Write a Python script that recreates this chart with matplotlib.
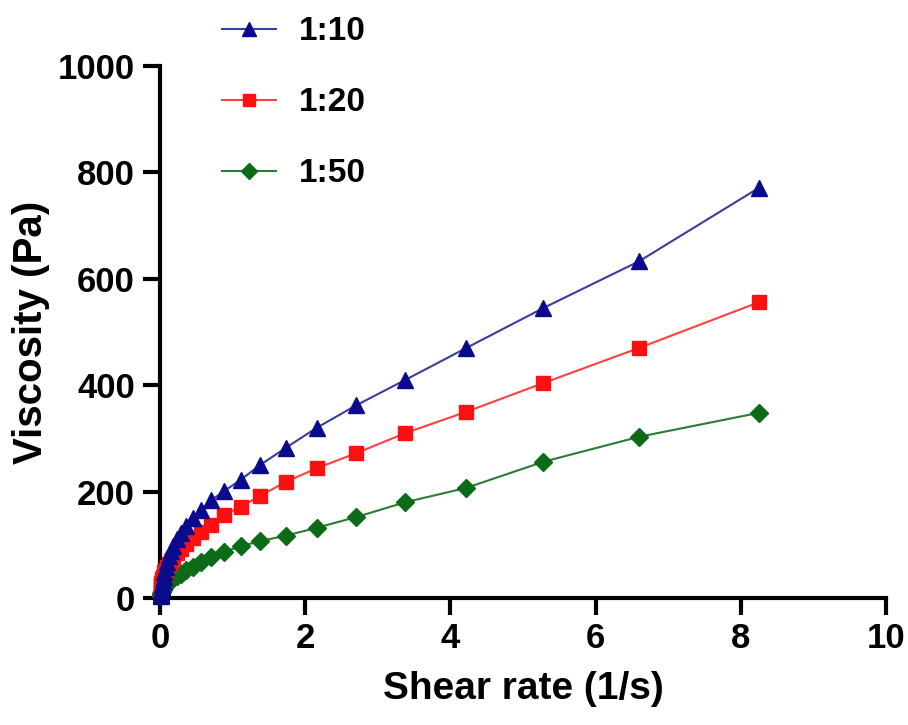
import matplotlib
matplotlib.use("Agg")
import matplotlib.pyplot as plt

plt.rcParams['font.family'] = ['Liberation Sans', 'DejaVu Sans']
plt.rcParams['font.weight'] = 'bold'

# shear rate (1/s), same for every series
shear_rate = [0.0102, 0.0128, 0.016, 0.02, 0.025, 0.031, 0.039, 0.049, 0.061, 0.076,
              0.095, 0.119, 0.149, 0.186, 0.232, 0.29, 0.363, 0.453, 0.567, 0.708,
              0.885, 1.11, 1.38, 1.73, 2.16, 2.70, 3.38, 4.22, 5.28, 6.6, 8.25]

# viscosity (Pa)
visc_1_10 = [3, 5, 8, 12, 18, 25, 32, 40, 49, 58,
             68, 78, 88, 98, 110, 122, 136, 150, 165, 184,
             201, 222, 250, 282, 320, 362, 410, 470, 545, 633, 771]
visc_1_20 = [15, 20, 24, 28, 32, 36, 40, 44, 48, 53,
             58, 64, 70, 76, 84, 92, 102, 112, 124, 137,
             156, 171, 192, 218, 244, 272, 310, 350, 404, 470, 556]
visc_1_50 = [4, 5, 7, 9, 11, 13, 15, 18, 21, 24,
             27, 30, 33, 37, 41, 46, 52, 59, 67, 77,
             87, 97, 107, 117, 132, 152, 180, 207, 256, 303, 348]

labels = ['1:10', '1:20', '1:50']
colors = ['#0a0a8c', '#ff1010', '#0b6b16']
line_colors = ['#3c3ca0', '#ff4040', '#2e7a36']
markers = ['^', 's', 'D']
sizes = [12, 10, 9]

fig = plt.figure(figsize=(9.08, 7.25), dpi=100)
ax = fig.add_axes([0.1762, 0.1752, 0.7996, 0.7338])

series = [visc_1_10, visc_1_20, visc_1_50]
zorders = [4, 3, 2]
for i in range(3):
    ax.plot(shear_rate, series[i], color=line_colors[i], linewidth=1.5,
            marker=markers[i], markersize=sizes[i], markerfacecolor=colors[i],
            markeredgecolor=colors[i], label=labels[i], zorder=zorders[i],
            clip_on=False)

ax.set_xlim(0, 10)
ax.set_ylim(0, 1000)
ax.set_xticks([0, 2, 4, 6, 8, 10])
ax.set_yticks([0, 200, 400, 600, 800, 1000])

for s in ['top', 'right']:
    ax.spines[s].set_visible(False)
for s in ['left', 'bottom']:
    ax.spines[s].set_linewidth(3)

ax.tick_params(axis='both', direction='out', length=12, width=3, labelsize=25, pad=6)
ax.tick_params(axis='x', pad=5)

ax.set_xlabel('Shear rate (1/s)', fontsize=28, fontweight='bold', labelpad=12)
ax.set_ylabel('Viscosity (Pa)', fontsize=29, fontweight='bold', labelpad=6)

handles, labs = ax.get_legend_handles_labels()
fig.legend(handles, labs, loc='upper left', bbox_to_anchor=(0.212, 1.019),
           frameon=False, fontsize=24, labelspacing=1.2, handlelength=1.6,
           handletextpad=0.7, markerscale=0.85)

fig.savefig('out.png', dpi=100)
